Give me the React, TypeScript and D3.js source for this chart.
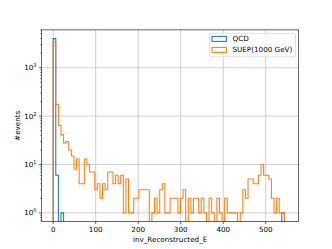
import React, { useEffect, useRef } from "react";
import * as d3 from "d3";

// histogram binning (90 bins from 0 to 550)
const binEdges = d3.range(91).map((i) => (i * 550) / 90);

// counts per bin
const qcdCounts = [
  4000, 6, 0, 1, 0, 0, 0, 0, 0, 0,
  0, 0, 0, 0, 0, 0, 0, 0, 0, 0,
  0, 0, 0, 0, 0, 0, 0, 0, 0, 0,
  0, 0, 0, 0, 0, 0, 0, 0, 0, 0,
  0, 0, 0, 0, 0, 0, 0, 0, 0, 0,
  0, 0, 0, 0, 0, 0, 0, 0, 0, 0,
  0, 0, 0, 0, 0, 0, 0, 0, 0, 0,
  0, 0, 0, 0, 0, 0, 0, 0, 0, 0,
  0, 0, 0, 0, 0, 0, 0, 0, 1, 0,
];

const suepCounts = [
  3360, 174, 64, 41, 28, 30, 20, 15, 8, 13,
  4, 4, 13, 10, 7, 7, 3, 4, 2, 4,
  3, 7, 7, 4, 6, 4, 6, 1, 5, 1,
  1, 2, 2, 3, 3, 3, 3, 0, 1, 2,
  1, 3, 4, 1, 1, 2, 2, 2, 1, 2,
  3, 0, 2, 1, 2, 2, 1, 2, 1, 0,
  2, 1, 0, 2, 1, 0, 2, 1, 1, 1,
  1, 0, 1, 3, 2, 5, 5, 4, 4, 6,
  10, 6, 6, 5, 2, 1, 2, 1, 1, 0,
];

const seriesNames = ["QCD", "SUEP(1000 GeV)"];
const xTicks = [0, 100, 200, 300, 400, 500];
const yExponents = [0, 1, 2, 3];
const xLabel = "inv_Reconstructed_E";
const yLabel = "#events";

export default function App() {
  const ref = useRef<SVGSVGElement>(null);

  useEffect(() => {
    const W = 332, H = 249;
    const margin = { left: 41.5, right: 33.3, top: 29.9, bottom: 27.4 };
    const colors = ["#1f77b4", "#ff7f0e"];
    const font = "DejaVu Sans, sans-serif";

    const svg = d3.select(ref.current);
    svg.selectAll("*").remove();

    const x = d3.scaleLinear()
      .domain([-27.5, 577.5])
      .range([margin.left, W - margin.right]);
    const y = d3.scaleLog()
      .domain([Math.pow(10, -0.18), Math.pow(10, 3.782)])
      .range([H - margin.bottom, margin.top]);

    const [x0, x1] = x.range();
    const [y0, y1] = y.range();

    svg.append("rect").attr("width", W).attr("height", H).attr("fill", "#fff");

    svg.append("defs").append("clipPath").attr("id", "plotclip")
      .append("rect")
      .attr("x", x0).attr("y", y1)
      .attr("width", x1 - x0).attr("height", y0 - y1);

    // grid
    const grid = svg.append("g").attr("stroke", "#b0b0b0").attr("stroke-width", 0.6);
    xTicks.forEach((t) => {
      grid.append("line").attr("x1", x(t)).attr("x2", x(t)).attr("y1", y0).attr("y2", y1);
    });
    yExponents.forEach((e) => {
      const v = Math.pow(10, e);
      grid.append("line").attr("x1", x0).attr("x2", x1).attr("y1", y(v)).attr("y2", y(v));
    });

    // step histograms
    const below = y0 + 20;
    const ypos = (c: number) => (c > 0 ? y(c) : below);
    const stepPath = (counts: number[]) => {
      const p = d3.path();
      p.moveTo(x(binEdges[0]), below);
      counts.forEach((c, i) => {
        p.lineTo(x(binEdges[i]), ypos(c));
        p.lineTo(x(binEdges[i + 1]), ypos(c));
      });
      p.lineTo(x(binEdges[binEdges.length - 1]), below);
      return p.toString();
    };

    const hist = svg.append("g").attr("clip-path", "url(#plotclip)");
    [qcdCounts, suepCounts].forEach((counts, k) => {
      hist.append("path")
        .attr("d", stepPath(counts))
        .attr("fill", "none")
        .attr("stroke", colors[k])
        .attr("stroke-width", 1.05)
        .attr("stroke-linejoin", "miter");
    });

    // spines
    svg.append("rect")
      .attr("x", x0).attr("y", y1)
      .attr("width", x1 - x0).attr("height", y0 - y1)
      .attr("fill", "none").attr("stroke", "#000").attr("stroke-width", 0.6);

    // x ticks
    const xt = svg.append("g");
    xTicks.forEach((t) => {
      xt.append("line")
        .attr("x1", x(t)).attr("x2", x(t))
        .attr("y1", y0).attr("y2", y0 + 2.5)
        .attr("stroke", "#000").attr("stroke-width", 0.6);
      xt.append("text")
        .attr("x", x(t)).attr("y", y0 + 10.6)
        .attr("text-anchor", "middle")
        .attr("font-family", font).attr("font-size", 7.2)
        .attr("fill", "#000")
        .text(t);
    });

    // y ticks (log major + minor)
    const yt = svg.append("g");
    yExponents.forEach((e) => {
      const v = Math.pow(10, e);
      yt.append("line")
        .attr("x1", x0 - 2.5).attr("x2", x0)
        .attr("y1", y(v)).attr("y2", y(v))
        .attr("stroke", "#000").attr("stroke-width", 0.6);
      const label = yt.append("text")
        .attr("x", x0 - 5).attr("y", y(v) + 2.6)
        .attr("text-anchor", "end")
        .attr("font-family", font).attr("font-size", 7.2)
        .attr("fill", "#000");
      label.append("tspan").text("10");
      label.append("tspan").attr("dy", -3).attr("font-size", 5).text(e);
    });
    const [dLo, dHi] = y.domain();
    d3.range(-1, 4).forEach((e) => {
      d3.range(2, 10).forEach((k) => {
        const v = k * Math.pow(10, e);
        if (v < dLo || v > dHi) return;
        yt.append("line")
          .attr("x1", x0 - 1.45).attr("x2", x0)
          .attr("y1", y(v)).attr("y2", y(v))
          .attr("stroke", "#000").attr("stroke-width", 0.45);
      });
    });

    // axis labels
    svg.append("text")
      .attr("x", (x0 + x1) / 2).attr("y", y0 + 20.6)
      .attr("text-anchor", "middle")
      .attr("font-family", font).attr("font-size", 7.2)
      .text(xLabel);
    svg.append("text")
      .attr("transform", `translate(${19.5},${(y0 + y1) / 2}) rotate(-90)`)
      .attr("text-anchor", "middle")
      .attr("font-family", font).attr("font-size", 7.2)
      .text(yLabel);

    // legend
    const lg = svg.append("g");
    lg.append("rect")
      .attr("x", 209.5).attr("y", 33.3)
      .attr("width", 86).attr("height", 23.5)
      .attr("rx", 1.5)
      .attr("fill", "#fff").attr("fill-opacity", 0.8)
      .attr("stroke", "#cccccc").attr("stroke-width", 0.6);
    seriesNames.forEach((name, k) => {
      const cy = 38.8 + k * 11;
      lg.append("rect")
        .attr("x", 212).attr("y", cy - 2.4)
        .attr("width", 14.4).attr("height", 5)
        .attr("fill", "none")
        .attr("stroke", colors[k]).attr("stroke-width", 1.05);
      lg.append("text")
        .attr("x", 232.5).attr("y", cy + 2.6)
        .attr("font-family", font).attr("font-size", 7.2)
        .attr("fill", "#000")
        .text(name);
    });
  }, []);

  return (
    <svg
      ref={ref}
      width={332}
      height={249}
      style={{ position: "absolute", left: 0, top: 0 }}
    />
  );
}
